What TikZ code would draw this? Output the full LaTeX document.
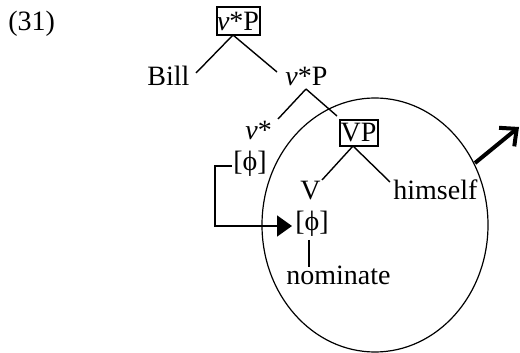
\documentclass[tikz,border=0pt]{standalone}
\usepackage{fontspec}
\setmainfont{Liberation Serif}
\usetikzlibrary{arrows.meta,shapes.geometric}
\begin{document}
\begin{tikzpicture}[x=0.5pt,y=-0.5pt,
  every node/.style={font=\fontsize{14}{17}\selectfont},
  lbl/.style={anchor=base west, inner sep=0pt},
  catbox/.style={draw, line width=1pt, inner sep=0pt, anchor=center},
  branch/.style={line width=0.7pt},
  movearrow/.style={line width=0.8pt, -{Triangle[length=7.5pt,width=10.5pt]}},
  outarrow/.style={line width=2pt, -{Straight Barb[length=6.5pt,width=12pt]}}]
\useasboundingbox (0,0) rectangle (520,353);

% domain ellipse
\node (dom) [draw, line width=0.6pt, ellipse, minimum width=113pt, minimum height=127pt, inner sep=0pt] at (375,225) {};

\node (ex) [lbl] at (8,31) {(31)};
\node (top) [catbox, minimum width=21.5pt, minimum height=14pt] at (238,21) {\textit{v}*P};
\node (bill) [lbl] at (147,86) {Bill};
\node (vsp) [lbl] at (285,86) {\textit{v}*P};
\node (vs) [lbl] at (245,140) {\textit{v}*};
\node (vp) [catbox, minimum width=19pt, minimum height=13pt] at (358.5,133) {VP};
\node (phiA) [lbl] at (233,171) {[ϕ]};
\node (V) [lbl] at (300,199) {V};
\node (him) [lbl] at (393,199) {himself};
\node (phiB) [lbl] at (295,231) {[ϕ]};
\node (nom) [lbl] at (286,285) {nominate};

% branch end points
\coordinate (topfoot) at (233,35);
\coordinate (billend) at (196,73);
\coordinate (vspend) at (277,72);
\coordinate (vsphead) at (306,89);
\coordinate (vsend) at (278,119);
\coordinate (vpend) at (337,116);
\coordinate (vpfoot) at (353,146);
\coordinate (Vend) at (322,180);
\coordinate (himend) at (390,182);
\coordinate (phiBfoot) at (309,240);
\coordinate (nomhead) at (309,267);

\draw[branch] (topfoot) -- (billend);
\draw[branch] (topfoot) -- (vspend);
\draw[branch] (vsphead) -- (vsend);
\draw[branch] (vsphead) -- (vpend);
\draw[branch] (vpfoot) -- (Vend);
\draw[branch] (vpfoot) -- (himend);
\draw[branch] (phiBfoot) -- (nomhead);

% movement arrow
\coordinate (phiAleft) at (232,166);
\coordinate (phiBleft) at (292,226);
\draw[movearrow] (phiAleft) -- (215,166) |- (phiBleft);

% outgoing arrow
\coordinate (domexit) at (475,163);
\coordinate (outtip) at (519,127);
\draw[outarrow] (domexit) -- (outtip);
\end{tikzpicture}
\end{document}
